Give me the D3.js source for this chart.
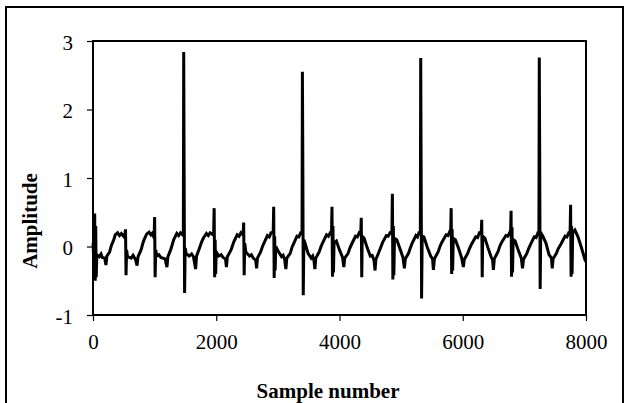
<!DOCTYPE html>
<html>
<head>
<meta charset="utf-8">
<script src="https://cdn.jsdelivr.net/npm/d3@7"></script>
<style>
  body { margin: 0; background: #fff; }
  text { font-family: "Liberation Serif", "Times New Roman", serif; fill: #000; }
</style>
</head>
<body>
<svg id="chart" width="628" height="403"></svg>
<script>
// values: [sample number, amplitude], one beat per line
const signal = [
  [0, 0.05], [8, -0.1], [18, 0.1], [27, 0.48], [36, -0.50], [44, 0.3], [52, -0.45], [62, -0.12], [100, -0.15], [130, -0.11], [150, -0.16], [190, -0.17], [210, -0.27], [225, -0.14], [270, -0.08], [300, 0.02], [320, 0.06], [345, 0.12], [360, 0.17], [400, 0.20], [430, 0.16], [460, 0.19], [505, 0.14],
  [520, 0.2], [528, 0.25], [536, -0.42], [545, -0.05], [560, -0.15], [620, -0.17], [650, -0.13], [690, -0.19], [715, -0.28], [730, -0.15], [780, -0.05], [810, 0.05], [830, 0.10], [870, 0.18], [910, 0.21], [940, 0.17], [960, 0.19], [985, 0.14],
  [992, 0.15], [1000, 0.43], [1008, -0.45], [1018, -0.05], [1035, -0.14], [1070, -0.12], [1100, -0.16], [1170, -0.18], [1200, -0.30], [1215, -0.15], [1260, -0.05], [1290, 0.04], [1310, 0.10], [1360, 0.19], [1390, 0.16], [1420, 0.20], [1455, 0.17],
  [1466, 0.2], [1472, 2.84], [1478, 1.25], [1486, -0.68], [1496, -0.02], [1510, -0.1], [1560, -0.14], [1600, -0.11], [1630, -0.15], [1665, -0.33], [1680, -0.14], [1730, -0.02], [1760, 0.06], [1790, 0.12], [1840, 0.19], [1870, 0.16], [1900, 0.20], [1950, 0.17],
  [1958, 0.2], [1966, 0.56], [1974, -0.45], [1982, 0.1], [1990, -0.40], [2000, -0.08], [2040, -0.14], [2080, -0.12], [2110, -0.16], [2150, -0.18], [2165, -0.30], [2180, -0.15], [2240, -0.05], [2270, 0.03], [2290, 0.08], [2340, 0.17], [2370, 0.15], [2400, 0.2], [2435, 0.17],
  [2445, 0.35], [2453, -0.42], [2462, 0.05], [2480, -0.08], [2540, -0.14], [2570, -0.12], [2600, -0.17], [2640, -0.2], [2655, -0.32], [2668, -0.17], [2720, -0.08], [2750, 0.0], [2780, 0.06], [2830, 0.16], [2860, 0.14], [2890, 0.2], [2924, 0.2],
  [2932, 0.58], [2940, -0.46], [2948, 0.15], [2956, -0.35], [2966, 0.0], [3000, -0.06], [3060, -0.15], [3085, -0.13], [3110, -0.19], [3130, -0.33], [3145, -0.17], [3200, -0.1], [3230, -0.01], [3260, 0.05], [3310, 0.15], [3340, 0.14], [3370, 0.2], [3392, 0.2],
  [3398, 2.55], [3404, 1.45], [3412, -0.71], [3422, 0.1], [3440, 0.05], [3490, -0.1], [3540, -0.17], [3565, -0.14], [3585, -0.2], [3600, -0.33], [3615, -0.17], [3670, -0.08], [3700, 0.0], [3730, 0.06], [3790, 0.17], [3820, 0.15], [3850, 0.2], [3870, 0.19],
  [3878, 0.58], [3886, -0.44], [3894, 0.3], [3902, -0.38], [3912, 0.05], [3950, 0.08], [4000, -0.05], [4050, -0.16], [4070, -0.3], [4085, -0.17], [4140, -0.1], [4170, -0.02], [4200, 0.04], [4260, 0.15], [4290, 0.14], [4320, 0.2], [4345, 0.19],
  [4353, 0.42], [4361, -0.45], [4369, 0.15], [4400, 0.12], [4450, -0.02], [4500, -0.14], [4530, -0.13], [4560, -0.2], [4577, -0.35], [4590, -0.19], [4640, -0.08], [4670, -0.01], [4700, 0.06], [4760, 0.16], [4790, 0.15], [4820, 0.2], [4850, 0.19],
  [4858, 0.77], [4866, -0.48], [4874, 0.3], [4882, -0.42], [4892, 0.12], [4930, 0.1], [4980, -0.03], [5030, -0.16], [5053, -0.32], [5068, -0.18], [5120, -0.1], [5150, -0.02], [5180, 0.05], [5240, 0.16], [5265, 0.14], [5290, 0.2], [5312, 0.2],
  [5318, 2.75], [5324, 1.3], [5332, -0.76], [5342, 0.15], [5370, 0.14], [5420, 0.0], [5480, -0.14], [5510, -0.18], [5524, -0.34], [5540, -0.18], [5600, -0.08], [5630, 0.0], [5660, 0.06], [5730, 0.17], [5760, 0.16], [5790, 0.22], [5804, 0.2],
  [5812, 0.56], [5820, -0.40], [5828, 0.25], [5836, -0.35], [5846, 0.12], [5880, 0.1], [5930, -0.02], [5980, -0.16], [6010, -0.3], [6025, -0.19], [6080, -0.1], [6110, -0.03], [6140, 0.03], [6210, 0.14], [6240, 0.13], [6270, 0.2], [6300, 0.19],
  [6308, 0.39], [6316, -0.45], [6324, 0.15], [6360, 0.12], [6410, -0.02], [6460, -0.15], [6485, -0.2], [6497, -0.34], [6512, -0.18], [6570, -0.08], [6600, 0.0], [6630, 0.06], [6700, 0.16], [6730, 0.15], [6760, 0.2], [6776, 0.19],
  [6784, 0.52], [6792, -0.44], [6800, 0.28], [6808, -0.38], [6818, 0.1], [6850, 0.08], [6900, -0.05], [6950, -0.17], [6970, -0.32], [6985, -0.19], [7040, -0.1], [7070, -0.03], [7100, 0.03], [7160, 0.14], [7190, 0.13], [7220, 0.2], [7236, 0.2],
  [7242, 2.76], [7248, 1.46], [7256, -0.62], [7266, 0.2], [7300, 0.15], [7350, 0.05], [7400, -0.12], [7440, -0.17], [7452, -0.32], [7466, -0.18], [7520, -0.1], [7550, -0.03], [7590, 0.03], [7660, 0.15], [7690, 0.14], [7720, 0.2], [7742, 0.2],
  [7750, 0.61], [7758, -0.44], [7766, 0.3], [7774, -0.4], [7784, 0.2], [7820, 0.24], [7870, 0.14], [7920, 0.0], [7960, -0.12], [7985, -0.2], [8000, -0.22]
];

const xTicks = [0, 2000, 4000, 6000, 8000];
const yTicks = [-1, 0, 1, 2, 3];
const xTitle = "Sample number";
const yTitle = "Amplitude";

const svg = d3.select("#chart");

const plotLeft = 93, plotRight = 586, plotTop = 41, plotBottom = 315;

let x = d3.scaleLinear()
          .domain([0, 8000])
          .range([plotLeft, plotRight]);

let y = d3.scaleLinear()
          .domain([-1, 3])
          .range([plotBottom, plotTop]);

// outer frame (bottom edge runs off the picture)
svg.append("rect")
   .attr("x", 6)
   .attr("y", 7)
   .attr("width", 617)
   .attr("height", 420)
   .attr("fill", "none")
   .attr("stroke", "black")
   .attr("stroke-width", 2);

// axes, plain hyphen for the minus like the original
let xAxis = svg.append("g")
   .attr("transform", `translate(0,${plotBottom})`)
   .call(d3.axisBottom(x).tickValues(xTicks).tickSize(6).tickFormat((d)=> String(d)));

let yAxis = svg.append("g")
   .attr("transform", `translate(${plotLeft},0)`)
   .call(d3.axisLeft(y).tickValues(yTicks).tickSize(6).tickFormat((d)=> String(d)));

[xAxis, yAxis].forEach((g)=>{
  g.select(".domain").remove();
  g.selectAll(".tick line").attr("stroke", "black").attr("stroke-width", 1.2);
  g.selectAll(".tick text")
   .style("font-family", "'Liberation Serif', serif")
   .style("font-size", "21px")
   .attr("fill", "black");
});

xAxis.selectAll(".tick text").attr("y", 34).attr("dy", 0);
yAxis.selectAll(".tick text").attr("x", -20).attr("dy", 8);

// the trace
let line = d3.line()
   .x((d)=> x(d[0]))
   .y((d)=> y(d[1]));

svg.append("path")
   .datum(signal)
   .attr("d", line)
   .attr("fill", "none")
   .attr("stroke", "black")
   .attr("stroke-width", 3);

// plot box
svg.append("rect")
   .attr("x", plotLeft)
   .attr("y", plotTop)
   .attr("width", plotRight - plotLeft)
   .attr("height", plotBottom - plotTop)
   .attr("fill", "none")
   .attr("stroke", "black")
   .attr("stroke-width", 2);

// titles
svg.append("text")
   .attr("text-anchor", "middle")
   .attr("x", 328)
   .attr("y", 398)
   .style("font-size", "21px")
   .style("font-weight", "bold")
   .text(xTitle);

svg.append("text")
   .attr("text-anchor", "middle")
   .attr("transform", "translate(37,221) rotate(-90)")
   .style("font-size", "21px")
   .style("font-weight", "bold")
   .text(yTitle);
</script>
</body>
</html>
